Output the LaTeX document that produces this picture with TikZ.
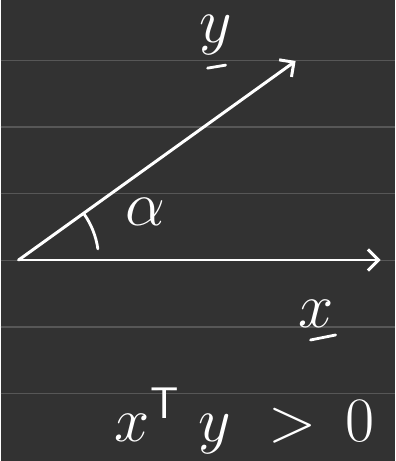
\documentclass[tikz,border=0pt]{standalone}
\usepackage{fix-cm}
\usetikzlibrary{arrows.meta}

\definecolor{board}{HTML}{323232}
\definecolor{ruling}{HTML}{575757}

\tikzset{
	vec/.style={draw=white, line width=1.7pt, line cap=round,
		-{Straight Barb[length=6pt,width=12pt,line width=1.7pt]}},
	stroke/.style={draw=white, line width=1.6pt, line cap=round},
	hand/.style={text=white, inner sep=0pt, font=\fontsize{36}{40}\selectfont}
}

\begin{document}
\begin{tikzpicture}[x=0.02cm,y=0.02cm]
	\fill[board] (0,0) rectangle (394,461);
	\foreach \r in {0,...,5}
		\draw[ruling, line width=0.7pt] (0,{400.5-66.6*\r}) -- (394,{400.5-66.6*\r});

	\coordinate (O) at (18,201);
	\coordinate (xend) at (380,201);
	\coordinate (yend) at (295,400);

	\draw[vec] (O) -- (xend);
	\draw[vec] (O) -- (yend);
	\draw[stroke] (O) ++(8:80) arc[start angle=8, end angle=35, radius=80];

	\node[hand] (ylab) at (215,426) {$y$};
	\draw[stroke] ([shift={(-8,-13)}]ylab.south) -- ([shift={(10,-10)}]ylab.south);

	\node[hand] (alpha) at (145,249) {$\alpha$};

	\node[hand] (xlab) at (315,147) {$x$};
	\draw[stroke] ([shift={(-5,-12)}]xlab.south) -- ([shift={(20,-7)}]xlab.south);

	\node[hand] (ineq) at (244,40) {$x^{\mathsf{T}}\hspace{0.3em}y\hspace{0.6em}{>}\hspace{0.45em}0$};
\end{tikzpicture}
\end{document}
